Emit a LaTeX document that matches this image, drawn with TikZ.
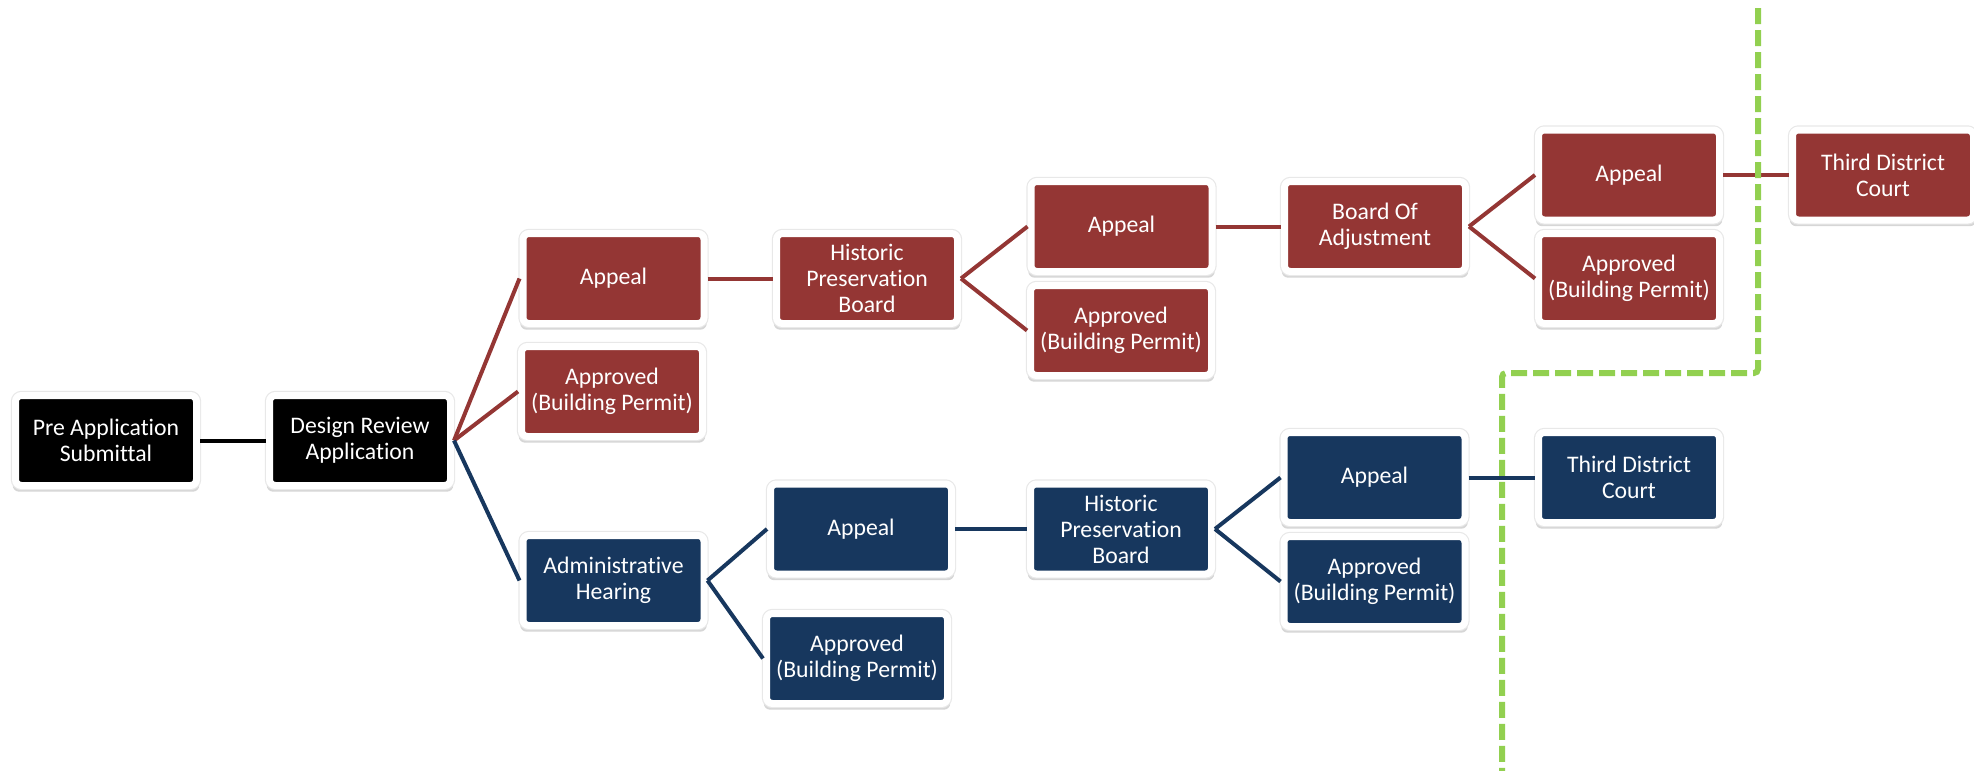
\documentclass[tikz,border=0pt]{standalone}
\usepackage{fontspec}
\setmainfont{Carlito}[Ligatures=CommonOff]
\usetikzlibrary{shadows}
\definecolor{rbox}{HTML}{943634}
\definecolor{bbox}{HTML}{17375E}
\definecolor{gline}{HTML}{92D050}
\begin{document}
\begin{tikzpicture}[x=0.75pt,y=-0.75pt,
  box/.style={rectangle, rounded corners=4.5pt, draw=white, line width=5.25pt,
    minimum width=135.75pt, minimum height=67.5pt, inner sep=0pt, align=center,
    text=white, font=\fontsize{17.8}{19.5}\selectfont,
    general shadow={shadow scale=1.03, shadow yshift=-3.5pt, opacity=0.16, fill=black},
    preaction={draw=black!9, line width=7pt}},
  blackbox/.style={box, fill=black},
  redbox/.style={box, fill=rbox},
  bluebox/.style={box, fill=bbox},
  conn/.style={line width=3pt},
  redline/.style={conn, draw=rbox},
  blueline/.style={conn, draw=bbox},
  blackline/.style={conn, draw=black},
  divider/.style={draw=gline, line width=4.5pt, dash pattern=on 12pt off 4.5pt, rounded corners=3pt}
]
\useasboundingbox (0,0) rectangle (1974,771);

% nodes
\node[blackbox] (pre) at (106,440.5) {Pre Application\\Submittal};
\node[blackbox] (dr)  at (360,440.5) {Design Review\\Application};

\node[redbox] (ra1)  at (613.5,278.5) {Appeal};
\node[redbox] (rap1) at (612,391.5) {Approved\\(Building Permit)};
\node[redbox] (hpb1) at (867,278.5) {Historic\\Preservation\\Board};
\node[redbox] (ra2)  at (1121.5,226.5) {Appeal};
\node[redbox] (rap2) at (1121,330.5) {Approved\\(Building Permit)};
\node[redbox] (boa)  at (1375,226.5) {Board Of\\Adjustment};
\node[redbox] (ra3)  at (1629,175) {Appeal};
\node[redbox] (rap3) at (1629,278.5) {Approved\\(Building Permit)};
\node[redbox] (tdc1) at (1883,175) {Third District\\Court};

\node[bluebox] (ah)   at (613.5,580.5) {Administrative\\Hearing};
\node[bluebox] (ba1)  at (861,529) {Appeal};
\node[bluebox] (bap1) at (857,658.5) {Approved\\(Building Permit)};
\node[bluebox] (hpb2) at (1121,529) {Historic\\Preservation\\Board};
\node[bluebox] (ba2)  at (1374.5,477.5) {Appeal};
\node[bluebox] (bap2) at (1374.5,581.5) {Approved\\(Building Permit)};
\node[bluebox] (tdc2) at (1629,477.5) {Third District\\Court};

% connectors
\draw[blackline] (pre.east) -- (dr.west);
\draw[redline] (dr.east) -- (ra1.west);
\draw[redline] (dr.east) -- (rap1.west);
\draw[blueline] (dr.east) -- (ah.west);
\draw[redline] (ra1.east) -- (hpb1.west);
\draw[redline] (hpb1.east) -- (ra2.west);
\draw[redline] (hpb1.east) -- (rap2.west);
\draw[redline] (ra2.east) -- (boa.west);
\draw[redline] (boa.east) -- (ra3.west);
\draw[redline] (boa.east) -- (rap3.west);
\draw[redline] (ra3.east) -- (tdc1.west);
\draw[blueline] (ah.east) -- (ba1.west);
\draw[blueline] (ah.east) -- (bap1.west);
\draw[blueline] (ba1.east) -- (hpb2.west);
\draw[blueline] (hpb2.east) -- (ba2.west);
\draw[blueline] (hpb2.east) -- (bap2.west);
\draw[blueline] (ba2.east) -- (tdc2.west);

% jurisdiction divider
\coordinate (g1) at (1758,8);
\coordinate (g2) at (1758,373);
\coordinate (g3) at (1502,373);
\coordinate (g4) at (1502,771);
\draw[divider] (g1) -- (g2) -- (g3) -- (g4);
\end{tikzpicture}
\end{document}
